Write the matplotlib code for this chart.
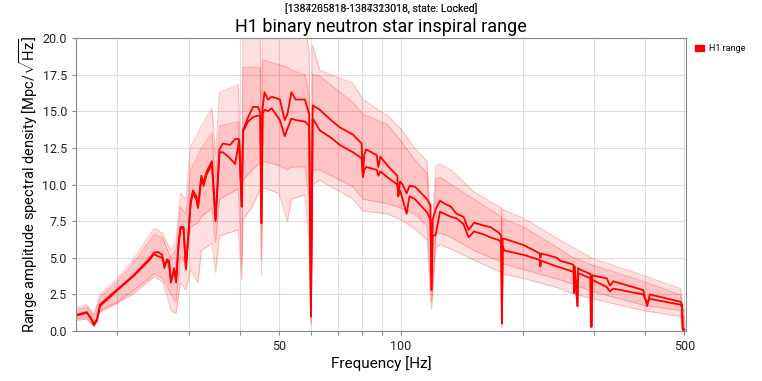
import matplotlib

matplotlib.use("Agg")
import matplotlib.pyplot as plt
from matplotlib.patches import Patch
from matplotlib.ticker import FixedLocator, FuncFormatter, NullFormatter

# median range ASD for the two spans (upper / lower curve)
freq_med = [15.8, 16.3, 16.8, 17.2, 17.5, 17.8, 18.1, 18.6, 20, 22, 24, 24.6, 25.2, 25.8,
            26.1, 26.5, 26.8, 27.1, 27.6, 27.9, 28.3, 28.6, 29.1, 29.5, 30.3, 30.7, 31.3,
            31.6, 32.2, 32.6, 33.2, 34.2, 34.9, 35.7, 36.4, 37.9, 39.0, 39.9, 40.5, 40.8,
            42, 43.2, 44.4, 45.0, 45.3, 45.6, 46.1, 47, 48, 50.3, 51.7, 52.5, 53.7, 55,
            58.0, 59.4, 60.0, 60.6, 63.1, 67.2, 70.7, 76.2, 80, 80.6, 81.2, 82.1, 87.2, 88,
            89, 92.6, 98.0, 98.5, 99.5, 101, 103.3, 105, 108.4, 116, 118.3, 119, 119.8,
            121.8, 124.9, 128, 132.8, 137.2, 142.7, 146.9, 151.5, 160, 166.2, 174.7, 176.8,
            177.5, 178.3, 179.9, 200.9, 220, 220.8, 222, 242.7, 247, 262.4, 266.7, 267.5,
            268.5, 272.6, 273.5, 276.6, 293.5, 294.2, 295.5, 296.5, 322, 328, 334, 396, 405,
            411, 489.6, 494, 495.5, 500]
med_a = [1.10, 1.20, 1.30, 0.90, 0.50, 0.80, 1.80, 2.10, 2.85, 3.85, 4.95, 5.35, 5.40, 5.20,
         4.30, 4.90, 4.80, 3.30, 4.30, 3.30, 6.00, 7.10, 7.10, 4.20, 8.80, 9.60, 9.20,
         8.50, 10.60, 10.10, 10.90, 11.60, 7.60, 12.40, 12.80, 12.70, 13.10, 13.10, 8.50, 13.70,
         14.60, 15.30, 15.30, 14.90, 7.35, 15.20, 16.30, 15.80, 16.00, 15.80, 14.40, 14.80, 16.30, 15.80,
         15.80, 14.80, 1.00, 15.40, 15.10, 14.40, 13.90, 13.40, 12.80, 10.60, 12.00, 12.40, 12.00, 11.20,
         11.90, 11.30, 10.60, 9.20, 10.20, 10.00, 9.40, 9.90, 9.85, 9.00, 8.60, 2.80, 7.60,
         8.30, 8.90, 8.70, 8.50, 8.00, 7.80, 6.90, 7.40, 7.20, 7.10, 6.70, 6.50,
         0.53, 6.30, 6.30, 5.87, 5.30, 5.00, 5.30, 5.00, 4.80, 4.60, 4.50, 2.60,
         4.40, 1.70, 4.30, 4.20, 3.90, 0.30, 0.30, 3.80, 3.60, 3.10, 3.40, 2.80, 1.70,
         2.50, 2.00, 1.80, 0.10, 0.10]
med_b = [1.05, 1.15, 1.25, 0.85, 0.40, 0.70, 1.70, 2.00, 2.80, 3.80, 4.85, 5.25, 5.10, 5.00,
         4.50, 4.80, 4.60, 3.40, 4.20, 3.50, 5.90, 7.00, 7.00, 4.30, 8.70, 9.40, 9.00,
         8.40, 10.40, 9.90, 10.70, 11.40, 7.50, 12.20, 12.20, 11.80, 11.40, 13.00, 8.50, 13.60,
         14.30, 14.60, 14.70, 14.70, 7.35, 14.80, 15.10, 15.00, 15.20, 14.40, 13.30, 13.80, 14.50, 14.40,
         14.30, 14.00, 1.00, 14.50, 13.70, 13.20, 12.70, 12.20, 11.80, 10.50, 11.00, 11.20, 11.00, 10.60,
         10.90, 10.50, 10.00, 9.20, 9.60, 9.00, 8.00, 9.20, 9.00, 8.10, 7.60, 2.80, 6.50,
         6.55, 8.15, 8.00, 7.80, 7.70, 7.30, 6.40, 6.80, 6.60, 6.40, 6.20, 6.00,
         0.53, 5.80, 5.50, 5.20, 4.85, 4.40, 4.80, 4.40, 4.35, 4.10, 4.05, 2.60,
         4.00, 1.70, 3.95, 3.90, 3.60, 0.30, 0.30, 3.50, 3.00, 2.70, 2.90, 2.50, 1.90,
         2.20, 1.80, 1.60, 0.10, 0.10]

# percentile bands
freq_band = [15.8, 16.8, 17.5, 18.1, 20, 22, 24.6, 25.8, 26.5, 27.1, 27.9, 28.6, 29.5, 30.3,
             31.6, 32.2, 34.2, 34.9, 35.7, 39.7, 40.5, 40.8, 43, 45.0, 45.3, 45.6, 50, 52.5,
             53.7, 58, 59.4, 60.0, 60.6, 63.1, 76.2, 80.6, 92.6, 100, 108, 116, 119, 122,
             124.9, 132.8, 151.5, 177, 177.5, 178.3, 200.9, 247, 262.4, 297.3, 396, 489.6,
             495.5, 500]
hi_a = [1.60, 1.80, 1.10, 2.45, 3.60, 5.00, 7.00, 6.70, 6.00, 5.50, 6.20, 9.40, 9.00, 12.60,
        13.50, 14.00, 15.20, 12.00, 16.30, 16.80, 9.50, 21.0, 21.0, 21.0, 12.00, 21.0, 21.0, 21.0,
        21.0, 21.0, 19.00, 2.00, 19.50, 17.80, 16.90, 15.80, 14.70, 13.80, 12.50, 11.60, 6.00, 11.30,
        11.40, 11.00, 9.50, 8.40, 4.00, 8.30, 7.70, 6.20, 5.80, 4.96, 3.80, 2.90,
        1.50, 1.50]
hi_b = [1.45, 1.65, 1.00, 2.30, 3.40, 4.70, 6.60, 6.40, 5.60, 5.00, 5.60, 8.50, 8.00, 11.00,
        12.00, 12.50, 13.50, 10.50, 14.00, 14.30, 8.50, 18.00, 18.00, 18.00, 10.00, 18.50, 18.20, 18.00,
        17.80, 17.50, 16.00, 1.50, 17.50, 17.40, 15.60, 14.80, 14.10, 13.00, 11.70, 10.80, 5.00, 10.40,
        10.50, 10.00, 9.00, 7.80, 3.00, 7.70, 7.10, 5.60, 5.10, 4.50, 3.40, 2.46,
        1.00, 1.00]
lo_a = [0.85, 0.90, 0.35, 1.40, 2.00, 2.80, 3.90, 3.60, 3.00, 2.50, 2.00, 5.10, 4.60, 7.10,
        7.40, 7.80, 8.40, 6.00, 9.00, 9.70, 4.50, 10.30, 11.00, 11.50, 5.00, 11.60, 11.30, 11.00,
        11.20, 11.20, 9.00, 0.60, 11.00, 11.00, 9.85, 9.00, 8.70, 8.40, 8.00, 7.20, 2.00, 6.70,
        6.70, 6.40, 5.50, 4.70, 0.30, 4.60, 4.20, 3.50, 3.25, 2.70, 1.77, 1.40,
        0.00, 0.00]
lo_b = [0.75, 0.80, 0.30, 1.30, 1.90, 2.60, 3.70, 3.40, 2.40, 1.40, 1.20, 3.30, 2.80, 4.20,
        3.30, 5.50, 6.00, 4.00, 6.50, 6.90, 3.50, 7.60, 8.50, 9.70, 3.80, 9.80, 9.40, 7.50,
        9.00, 9.30, 6.00, 0.40, 10.00, 10.30, 9.00, 8.20, 8.00, 7.60, 7.00, 6.20, 1.50, 5.70,
        5.90, 5.60, 4.85, 4.00, 0.20, 3.90, 3.60, 2.90, 2.60, 2.20, 1.40, 1.00,
        0.00, 0.00]

x_major = [50, 100, 500]
x_minor = [20, 30, 40, 60, 70, 80, 90, 200, 300, 400]
y_ticks = [0, 2.5, 5, 7.5, 10, 12.5, 15, 17.5, 20]

plt.rcParams["font.family"] = ["Roboto", "DejaVu Sans"]
plt.rcParams["mathtext.fontset"] = "custom"
plt.rcParams["mathtext.rm"] = "Roboto"

RED = "#ff0000"
fig = plt.figure(figsize=(7.62, 3.81), dpi=100)
ax = fig.add_axes([0.0997, 0.131, 0.8006, 0.7693])

for hi, lo in ((hi_a, lo_a), (hi_b, lo_b)):
    ax.fill_between(freq_band, lo, hi, color=RED, alpha=0.12, lw=0)
    ax.plot(freq_band, hi, color=RED, alpha=0.22, lw=0.8)
    ax.plot(freq_band, lo, color=RED, alpha=0.22, lw=0.8)
ax.plot(freq_med, med_a, color=RED, lw=1.3)
ax.plot(freq_med, med_b, color=RED, lw=1.3)

ax.set_xscale("log")
ax.set_xlim(15.8, 505)
ax.set_ylim(0, 20)
ax.xaxis.set_major_locator(FixedLocator(x_major))
ax.xaxis.set_major_formatter(FuncFormatter(lambda v, p: f"{v:g}"))
ax.xaxis.set_minor_locator(FixedLocator(x_minor))
ax.xaxis.set_minor_formatter(NullFormatter())
ax.set_yticks(y_ticks)
ax.yaxis.set_major_formatter(FuncFormatter(lambda v, p: f"{v:.1f}"))
ax.grid(True, which="both", color="#dddddd", lw=0.8)
ax.set_axisbelow(True)
for s in ax.spines.values():
    s.set_color("#888888")
    s.set_linewidth(0.8)
ax.tick_params(which="both", direction="out", length=3, width=0.8, color="#888888",
               labelsize=9, labelcolor="#222222")

ax.set_xlabel("Frequency [Hz]", fontsize=11, labelpad=2)
ax.set_ylabel(r"Range amplitude spectral density [Mpc/$\sqrt{\mathrm{Hz}}$]", fontsize=10.5,
              labelpad=2)
ax.set_title("H1 binary neutron star inspiral range", fontsize=13, pad=4)

fig.text(0.5, 0.978, "[1384265818-1384323018, state: Locked]", ha="center", va="center",
         fontsize=7.5, color="#222222")
fig.text(0.5, 0.978, "[1387205818-1387313018, state: Locked]", ha="center", va="center",
         fontsize=7.5, color="#222222")

fig.legend(handles=[Patch(color=RED, label="H1 range")], loc="upper left",
           bbox_to_anchor=(0.902, 0.905), frameon=False, fontsize=6.5,
           handlelength=0.9, handleheight=0.6, handletextpad=0.6)

fig.savefig("out.png", dpi=100)
